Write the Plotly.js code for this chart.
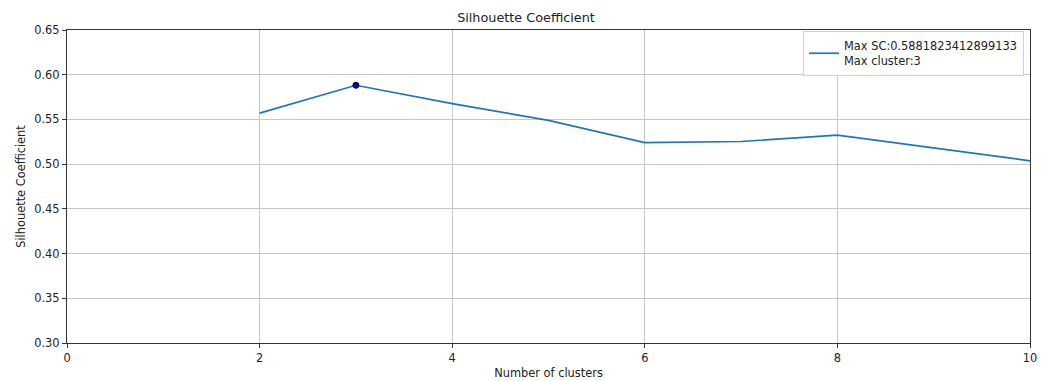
<!DOCTYPE html>
<html>
<head>
<meta charset="utf-8">
<script src="https://cdn.plot.ly/plotly-3.0.1.min.js"></script>
<style>html,body{margin:0;padding:0;background:#fff;}#chart{width:1052px;height:381px;}</style>
</head>
<body>
<div id="chart"></div>
<script>
const clusters = [2, 3, 4, 5, 6, 7, 8, 9, 10];
const scores = [0.557, 0.5882, 0.5676, 0.549, 0.524, 0.5253, 0.5325, 0.518, 0.5037];
const maxCluster = [3];
const maxScore = [0.5881823412899133];
const legendName = 'Max SC:0.5881823412899133<br>Max cluster:3';
const xTicks = [0, 2, 4, 6, 8, 10];
const yTicks = [0.30, 0.35, 0.40, 0.45, 0.50, 0.55, 0.60, 0.65];

const font = 'DejaVu Sans, sans-serif';
const traces = [
  {x: clusters, y: scores, type: 'scatter', mode: 'lines', name: legendName,
   line: {color: '#1f77b4', width: 1.7}},
  {x: maxCluster, y: maxScore, type: 'scatter', mode: 'markers', showlegend: false,
   marker: {color: '#0000cc', size: 6, line: {color: '#000', width: 1}}}
];
const axisCommon = {
  showline: true, mirror: true, linecolor: '#333', linewidth: 1.2,
  ticks: 'outside', ticklen: 4, tickcolor: '#333', tickwidth: 1,
  showgrid: true, gridcolor: '#c8c8c8', gridwidth: 1, zeroline: false,
  tickfont: {family: font, size: 11.4, color: '#222'}
};
const layout = {
  width: 1052, height: 381,
  margin: {l: 66.5, r: 22, t: 29.7, b: 37.7},
  paper_bgcolor: '#fff', plot_bgcolor: '#fff',
  title: {text: 'Silhouette Coefficient', font: {family: font, size: 12.8, color: '#222'},
          x: 0.5, xanchor: 'center', y: 0.955, yanchor: 'middle'},
  xaxis: Object.assign({}, axisCommon, {
    range: [0, 10], tickvals: xTicks, ticktext: xTicks.map(String),
    title: {text: 'Number of clusters', font: {family: font, size: 11.4, color: '#222'}, standoff: 5}
  }),
  yaxis: Object.assign({}, axisCommon, {
    range: [0.30, 0.65], tickvals: yTicks, ticktext: yTicks.map(v => v.toFixed(2)),
    title: {text: 'Silhouette Coefficient', font: {family: font, size: 11.4, color: '#222'}, standoff: 6}
  }),
  showlegend: true,
  legend: {x: 0.9938, xanchor: 'right', y: 0.997, yanchor: 'top',
           bgcolor: 'rgba(255,255,255,0.9)', bordercolor: '#d0d0d0', borderwidth: 1,
           font: {family: font, size: 11.4, color: '#222'}}
};
Plotly.newPlot('chart', traces, layout, {staticPlot: true, displayModeBar: false});
</script>
</body>
</html>
